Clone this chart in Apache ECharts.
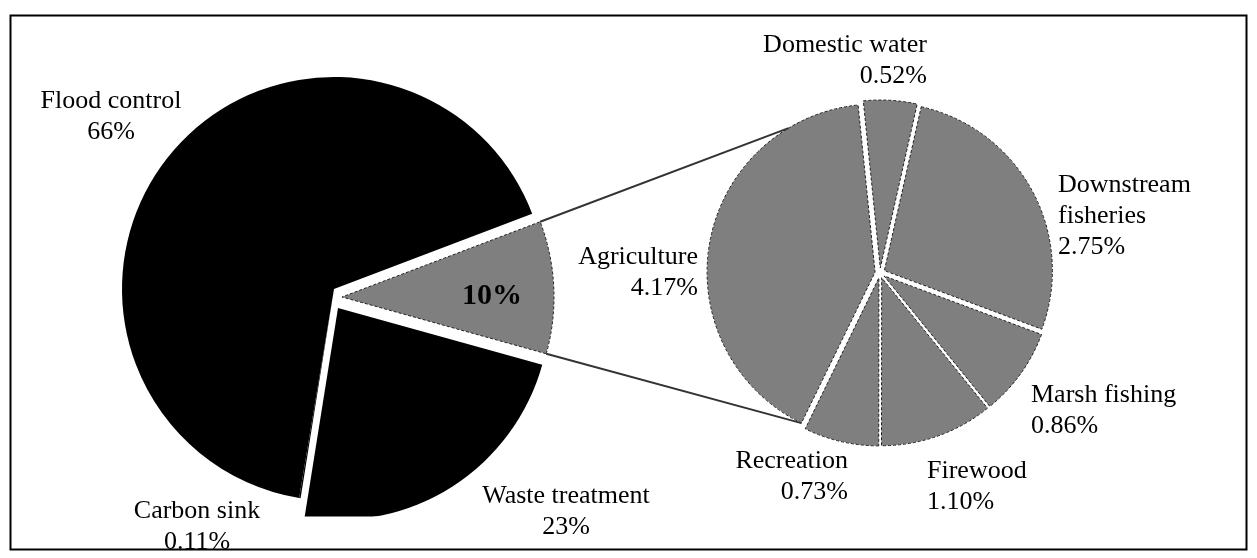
<!DOCTYPE html>
<html>
<head>
<meta charset="utf-8">
<script src="https://cdn.jsdelivr.net/npm/echarts@6/dist/echarts.min.js"></script>
<style>
  html, body { margin: 0; padding: 0; background: #ffffff; }
  #chart { width: 1257px; height: 558px; }
</style>
</head>
<body>
<div id="chart"></div>
<script>
// ---- Data ----
const leftNames = ['Flood control', 'Carbon sink', 'Waste treatment', 'Other'];
const leftValues = [66, 0.11, 23, 10];
const rightNames = ['Agriculture', 'Domestic water', 'Downstream fisheries', 'Marsh fishing', 'Firewood', 'Recreation'];
const rightValues = [4.17, 0.52, 2.75, 0.86, 1.10, 0.73];

// ---- Layout / style ----
const FONT = 'Liberation Serif, Times New Roman, serif';
const LEFT_R = 212;
const LEFT_START = 20.8;
const leftCenters = {
  'Flood control': [334, 289],
  'Carbon sink': [334, 289],
  'Waste treatment': [338, 308],
  'Other': [342, 297]
};
const RIGHT_C = [880, 273];
const RIGHT_R = 168;
const RIGHT_START = 244;
const RIGHT_OFFSET = 5;
const GRAY = '#7f7f7f';
const displayName = { 'Downstream fisheries': 'Downstream\nfisheries' };
const labelPos = {
  'Flood control': { x: 111, y: 117, align: 'center' },
  'Carbon sink': { x: 197, y: 527, align: 'center' },
  'Waste treatment': { x: 566, y: 512, align: 'center' },
  'Other': { x: 492, y: 296, align: 'center' },
  'Agriculture': { x: 698, y: 273, align: 'right' },
  'Domestic water': { x: 927, y: 61, align: 'right' },
  'Downstream fisheries': { x: 1058, y: 216, align: 'left' },
  'Marsh fishing': { x: 1031, y: 411, align: 'left' },
  'Firewood': { x: 927, y: 487, align: 'left' },
  'Recreation': { x: 848, y: 477, align: 'right' }
};

const chart = echarts.init(document.getElementById('chart'), null, { renderer: 'canvas' });

const baseLabel = {
  show: true, position: 'outside', fontFamily: FONT, fontSize: 26, lineHeight: 31, color: '#000'
};

function layoutFor(names) {
  return function (p) {
    const lp = labelPos[names[p.dataIndex]];
    if (!lp) return {};
    return { x: lp.x, y: lp.y, align: lp.align, verticalAlign: 'middle', hideOverlap: false };
  };
}

const rad = d => d * Math.PI / 180;
const pt = (c, r, a) => [c[0] + r * Math.cos(rad(a)), c[1] - r * Math.sin(rad(a))];
const sum = arr => arr.reduce((a, b) => a + b, 0);

// Build one pie series per exploded piece; all copies share the full data so angles come from the values
function pieSeries(names, values, center, radius, startAngle, clockwise, ownNames, styleFn, labelFn) {
  return {
    type: 'pie',
    center: center,
    radius: radius,
    startAngle: startAngle,
    clockwise: clockwise,
    avoidLabelOverlap: false,
    silent: true,
    labelLine: { show: false },
    label: Object.assign({}, baseLabel),
    labelLayout: layoutFor(names),
    emphasis: { disabled: true },
    data: names.map((n, i) => {
      const own = ownNames.includes(n);
      return {
        name: n,
        value: values[i],
        itemStyle: own ? styleFn(n) : { color: 'rgba(0,0,0,0)', borderWidth: 0 },
        label: own ? labelFn(n, i) : { show: false }
      };
    })
  };
}

const series = [];

// Left pie
const groups = [];
leftNames.forEach(n => {
  const key = leftCenters[n].join(',');
  let g = groups.find(x => x.key === key);
  if (!g) { g = { key, center: leftCenters[n], names: [] }; groups.push(g); }
  g.names.push(n);
});
groups.forEach(g => {
  series.push(pieSeries(leftNames, leftValues, g.center, LEFT_R, LEFT_START, false, g.names,
    n => n === 'Other'
      ? { color: GRAY, borderColor: '#222', borderWidth: 1, borderType: [3, 2] }
      : { color: '#000', borderWidth: 0 },
    (n, i) => n === 'Other'
      ? { show: true, formatter: leftValues[i] + '%', fontWeight: 'bold', fontSize: 30 }
      : { show: true, formatter: n + '\n' + leftValues[i] + '%' }));
});

// Right pie: every slice pushed out along its own bisector
const rightTotal = sum(rightValues);
const rightMid = [];
let acc = 0;
rightValues.forEach(v => {
  const span = 360 * v / rightTotal;
  rightMid.push(RIGHT_START - acc - span / 2);
  acc += span;
});
const rightCenters = rightMid.map(a => pt(RIGHT_C, RIGHT_OFFSET, a));
rightNames.forEach((n, i) => {
  series.push(pieSeries(rightNames, rightValues, rightCenters[i], RIGHT_R, RIGHT_START, true, [n],
    () => ({ color: GRAY, borderColor: '#222', borderWidth: 1, borderType: [3, 2] }),
    (nm, k) => ({ show: true, formatter: (displayName[nm] || nm) + '\n' + rightValues[k].toFixed(2) + '%' })));
});

// Connector lines, derived from the pie geometry
const leftTotal = sum(leftValues);
const otherIdx = leftNames.indexOf('Other');
const before = sum(leftValues.slice(0, otherIdx));
const aOtherStart = LEFT_START + 360 * before / leftTotal;
const aOtherEnd = aOtherStart + 360 * leftValues[otherIdx] / leftTotal;
const oc = leftCenters['Other'];
const upperCorner = pt(oc, LEFT_R, aOtherEnd);
const lowerCorner = pt(oc, LEFT_R, aOtherStart);
const agriCenter = rightCenters[0];
const rightTop = pt(agriCenter, RIGHT_R, 121);
const rightBottom = pt(agriCenter, RIGHT_R, RIGHT_START);

chart.setOption({
  backgroundColor: '#ffffff',
  animation: false,
  series: series,
  graphic: [
    { type: 'rect', z: 100, silent: true, shape: { x: 285, y: 516.5, width: 140, height: 10 }, style: { fill: '#ffffff' } },
    { type: 'line', z: 100, silent: true, shape: { x1: upperCorner[0], y1: upperCorner[1], x2: rightTop[0], y2: rightTop[1] }, style: { stroke: '#333', lineWidth: 2 } },
    { type: 'line', z: 100, silent: true, shape: { x1: lowerCorner[0], y1: lowerCorner[1], x2: rightBottom[0], y2: rightBottom[1] }, style: { stroke: '#333', lineWidth: 2 } },
    { type: 'rect', z: 101, silent: true, shape: { x: 10.5, y: 15.5, width: 1236, height: 534 }, style: { fill: 'none', stroke: '#000', lineWidth: 2 } }
  ]
});
</script>
</body>
</html>
